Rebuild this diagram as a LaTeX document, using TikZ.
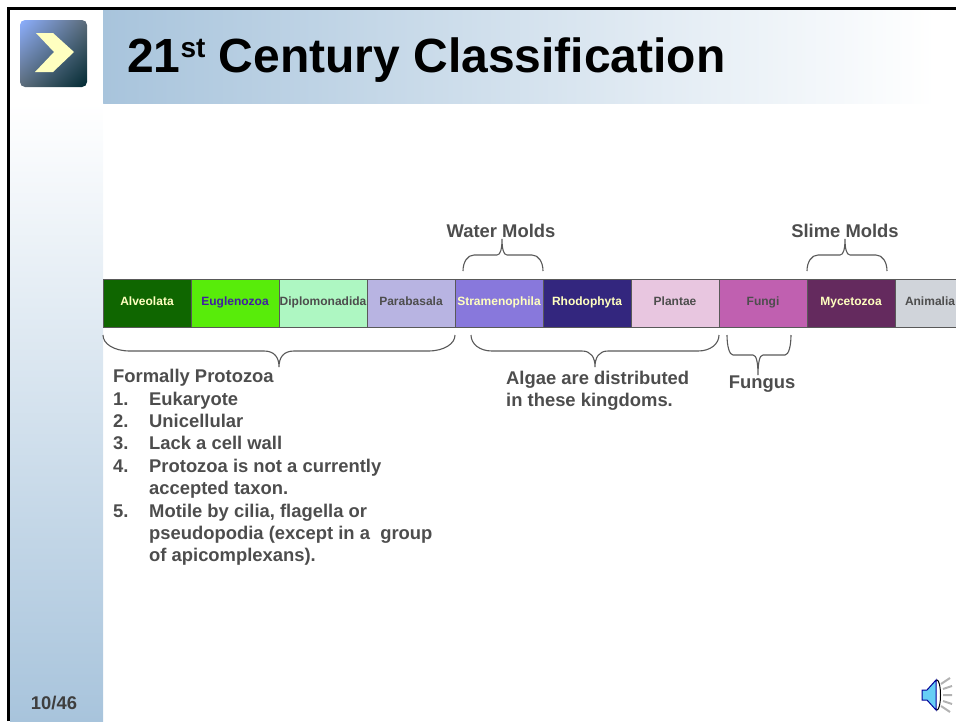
\documentclass[tikz,border=0pt]{standalone}
\usepackage{fontspec}
\setmainfont{Liberation Sans}
\usepackage{xcolor}
\usetikzlibrary{chains,positioning,shadings}

\definecolor{bandblue}{HTML}{A8C4DC}
\definecolor{labelgray}{HTML}{4D4D4D}
\definecolor{edgegray}{HTML}{595959}
\definecolor{paleyellow}{HTML}{FFFFC0}

% left x, right x, tip x, end y, flat y, tip y, end radius, tip radius
\newcommand{\curlybrace}[8]{
    \draw[curly] (#1,#4) .. controls (#1,{0.45*(#4+#5)+0.1*#5}) and ({#1+0.4*#7},#5) .. ({#1+#7},#5)
        -- ({#3-#8},#5) .. controls ({#3-0.3*#8},#5) and (#3,{0.6*#5+0.4*#6}) .. (#3,#6)
        .. controls (#3,{0.6*#5+0.4*#6}) and ({#3+0.3*#8},#5) .. ({#3+#8},#5)
        -- ({#2-#7},#5) .. controls ({#2-0.4*#7},#5) and (#2,{0.45*(#4+#5)+0.1*#5}) .. (#2,#4);
}

\begin{document}
\begin{tikzpicture}[x=1pt,y=-1pt]

        \tikzstyle{taxbox}=[draw=edgegray,line width=1pt,minimum width=88pt,minimum height=48pt,inner sep=0pt,outer sep=0pt,text height=8pt,text depth=4pt,font=\bfseries\fontsize{12}{14}\selectfont]
        \tikzstyle{note}=[text=labelgray,font=\bfseries\fontsize{18.4}{22}\selectfont,align=left]
        \tikzstyle{listnum}=[text=labelgray,font=\bfseries\fontsize{18.4}{22}\selectfont,anchor=base west,inner sep=0pt]
        \tikzstyle{curly}=[draw=edgegray,line width=1.1pt]

        \useasboundingbox (0,0) rectangle (956,721);
        \clip (0,0) rectangle (956,721);

        %% Background bands
        \fill[left color=bandblue,right color=white] (103,10) rectangle (935,103.5);
        \fill[top color=white,bottom color=bandblue] (10,103.5) rectangle (103,721);
        \draw[line width=2.6pt] (8.7,721) -- (8.7,8.7) -- (956,8.7);

        %% Icon
        \shade[rounded corners=5pt,upper left=cyan!30!blue!45!white,upper right=bandblue!55!black,lower left=bandblue!55!black,lower right=blue!20!cyan!20!black] (20,20) rectangle (87,87);
        \fill[paleyellow] (36,33) -- (53,33) -- (74,52) -- (53,72) -- (35,72) -- (54,52) -- cycle;

        %% Title
        \node[anchor=base west,inner sep=0pt,font=\bfseries\fontsize{48}{56}\selectfont] (title) at (127,72) {21\raisebox{15pt}{\fontsize{28}{32}\selectfont st} Century Classification};

        %% Taxa
        \begin{scope}[start chain=1 going right,node distance=0pt]
            \node [on chain=1,taxbox,fill={rgb,255:red,15;green,102;blue,0},text=paleyellow,at={(147,303)}] (alveolata) {Alveolata};
            \node [on chain=1,taxbox,fill={rgb,255:red,88;green,236;blue,10},text={rgb,255:red,64;green,32;blue,160}] (euglenozoa) {Euglenozoa};
            \node [on chain=1,taxbox,fill={rgb,255:red,174;green,247;blue,194},text=labelgray] (diplomonadida) {Diplomonadida};
            \node [on chain=1,taxbox,fill={rgb,255:red,184;green,180;blue,226},text=labelgray] (parabasala) {Parabasala};
            \node [on chain=1,taxbox,fill={rgb,255:red,136;green,120;blue,220},text=paleyellow] (stramenophila) {Stramenophila};
            \node [on chain=1,taxbox,fill={rgb,255:red,51;green,38;blue,126},text=paleyellow] (rhodophyta) {Rhodophyta};
            \node [on chain=1,taxbox,fill={rgb,255:red,232;green,198;blue,224},text=labelgray] (plantae) {Plantae};
            \node [on chain=1,taxbox,fill={rgb,255:red,192;green,96;blue,176},text=labelgray] (fungi) {Fungi};
            \node [on chain=1,taxbox,fill={rgb,255:red,100;green,42;blue,94},text=paleyellow] (mycetozoa) {Mycetozoa};
            \node [on chain=1,taxbox,fill={rgb,255:red,208;green,212;blue,218},text=labelgray,minimum width=70pt] (animalia) {Animalia};
        \end{scope}

        %% Braces
        \curlybrace{463}{543}{502}{271}{255}{239}{11}{5}
        \curlybrace{807}{887}{845}{271}{255}{239}{11}{5}
        \curlybrace{103}{455}{279}{335}{351}{367}{27}{15}
        \curlybrace{471}{719}{595}{335}{351}{367}{21}{13}
        \curlybrace{727}{791}{758}{335}{355}{375}{6}{5}

        %% Labels
        \node[note] (watermolds) at (501,231) {Water Molds};
        \node[note] (slimemolds) at (845,231) {Slime Molds};
        \node[note] (fungus) at (762,384) {Fungus};
        \node[note,anchor=north west,inner sep=0pt] (algae) at (506,371) {Algae are distributed\\in these kingdoms.};

        %% Protozoa list
        \node[listnum] (formally) at (113,382) {Formally Protozoa};
        \node[listnum] (n1) at (113,405) {1.};
        \node[listnum] (t1) at (149,405) {Eukaryote};
        \node[listnum] (n2) at (113,427) {2.};
        \node[listnum] (t2) at (149,427) {Unicellular};
        \node[listnum] (n3) at (113,449) {3.};
        \node[listnum] (t3) at (149,449) {Lack a cell wall};
        \node[listnum] (n4) at (113,472) {4.};
        \node[listnum] (t4) at (149,472) {Protozoa is not a currently};
        \node[listnum] (t4b) at (149,494) {accepted taxon.};
        \node[listnum] (n5) at (113,517) {5.};
        \node[listnum] (t5) at (149,517) {Motile by cilia, flagella or};
        \node[listnum] (t5b) at (149,539) {pseudopodia (except in a~~group};
        \node[listnum] (t5c) at (149,561) {of apicomplexans).};

        %% Page number
        \node[text=labelgray!80!black,font=\bfseries\fontsize{18.4}{22}\selectfont] (pagenum) at (54,703) {10/46};

        %% Speaker
        \draw[gray!60,line width=2pt] (941,684) -- (950,678) (943,689) -- (952,686) (943,695) -- (952,695) (943,701) -- (952,704) (941,706) -- (950,712);
        \fill[white,draw=black,line width=1pt] (937,695) ellipse (3.5pt and 15pt);
        \fill[cyan!60!white,draw=blue!60!black,line width=1pt] (922,690) -- (927,690) -- (936,680) -- (936,710) -- (927,700) -- (922,700) -- cycle;
\end{tikzpicture}
\end{document}
